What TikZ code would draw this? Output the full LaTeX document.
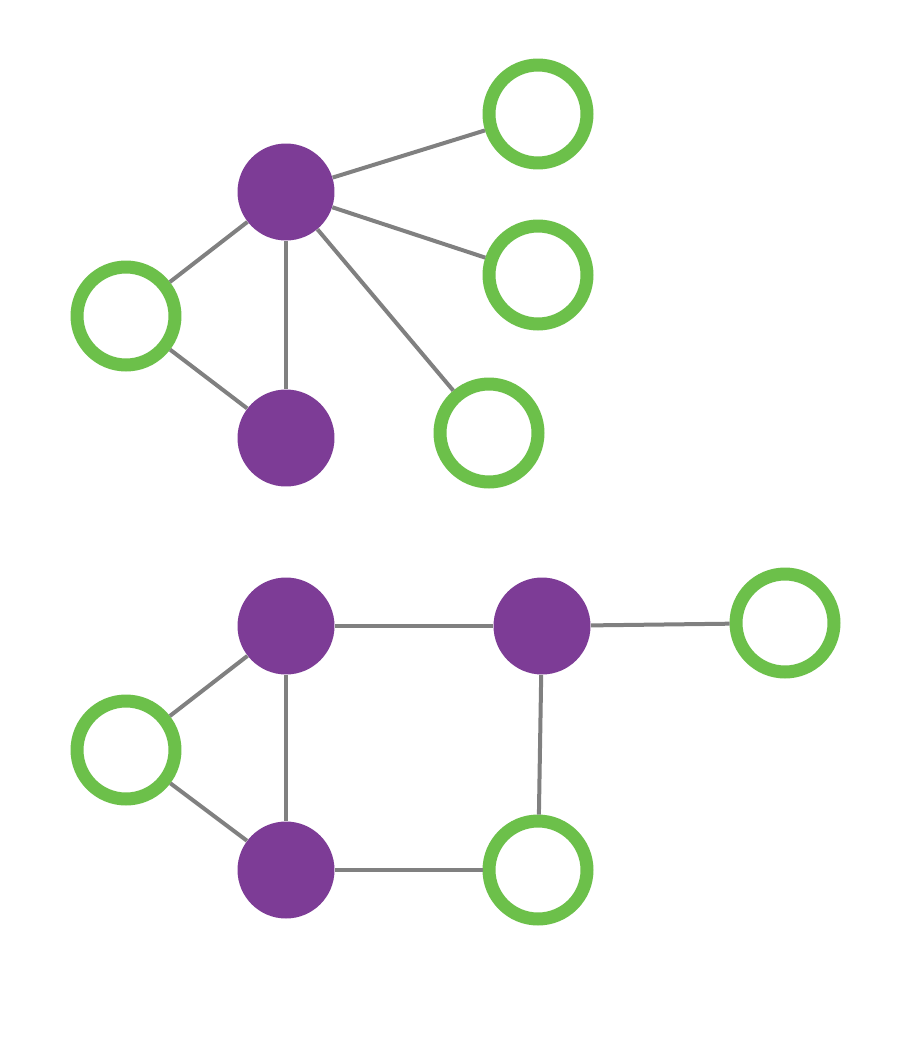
\documentclass[tikz,border=0pt]{standalone}
\usepackage{tikz}

\definecolor{hubpurple}{HTML}{7D3C96}
\definecolor{leafgreen}{HTML}{6CC04A}
\definecolor{edgegray}{HTML}{808080}

\begin{document}
\begin{tikzpicture}[x=0.02cm, y=-0.02cm,
    hub/.style={circle, fill=hubpurple, minimum size=1.94cm, inner sep=0pt},
    leaf/.style={circle, draw=leafgreen, line width=0.26cm, fill=white, minimum size=1.96cm, inner sep=0pt},
    link/.style={draw=edgegray, line width=0.08cm}]

    % page frame
    \useasboundingbox (0,0) rectangle (900,1048);

    % --- Upper graph: star around one hub ---
    \node[hub]  (hubA)  at (286,192) {};
    \node[hub]  (hubB)  at (286,438) {};
    \node[leaf] (leafA) at (538,114) {};
    \node[leaf] (leafB) at (538,275) {};
    \node[leaf] (leafC) at (126,316) {};
    \node[leaf] (leafD) at (489,433) {};

    \begin{scope}[on background layer/.style={}]
    \end{scope}

    % --- Lower graph: a loop of hubs ---
    \node[hub]  (hubC)  at (286,626) {};
    \node[hub]  (hubD)  at (542,626) {};
    \node[hub]  (hubE)  at (286,870) {};
    \node[leaf] (leafE) at (785,623) {};
    \node[leaf] (leafF) at (126,750) {};
    \node[leaf] (leafG) at (538,870) {};

    % Connectors
    \foreach \a/\b in {hubA/leafA, hubA/leafB, hubA/leafC, hubA/hubB, hubA/leafD, leafC/hubB,
                       hubC/hubD, hubD/leafE, leafF/hubC, leafF/hubE, hubC/hubE, hubE/leafG, hubD/leafG}
      \path[link] (\a) -- (\b);

\end{tikzpicture}
\end{document}
